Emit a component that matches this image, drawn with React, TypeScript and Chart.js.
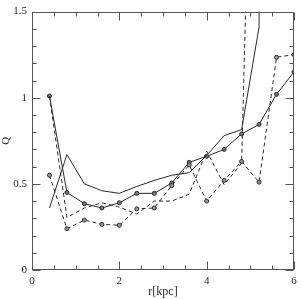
import React, { useEffect, useRef } from "react";
import { Chart, registerables } from "chart.js";

Chart.register(...registerables);

const radius = [0.4, 0.8, 1.2, 1.6, 2.0, 2.4, 2.8, 3.2, 3.6, 4.0, 4.4, 4.8, 5.2, 5.6, 6.0];
const qSolidMarked = [1.01, 0.45, 0.385, 0.36, 0.39, 0.445, 0.445, 0.505, 0.625, 0.66, 0.7, 0.79, 0.845, 1.02, 1.15];
const qSolid = [0.36, 0.67, 0.5, 0.46, 0.445, 0.485, 0.52, 0.55, 0.565, 0.665, 0.78, 0.815, 1.41, 30];
const qDashedMarked = [0.55, 0.24, 0.29, 0.265, 0.26, 0.355, 0.36, 0.49, 0.61, 0.4, 0.52, 0.63, 0.51, 1.235, 1.25];
const qDashed = [1.01, 0.305, 0.36, 0.39, 0.365, 0.325, 0.4, 0.4, 0.44, 0.69, 0.495, 0.62, 4.5];

const xTickLabels = ["0", "2", "4", "6"];
const yTickLabels = ["0", "0.5", "1", "1.5"];

const FONT = "'Liberation Serif', 'Times New Roman', serif";
const INK = "#2a2a2a";

const toPoints = (vals: number[]) => vals.map((v, i) => ({ x: radius[i], y: v }));

const framePlugin = {
  id: "frameTicks",
  afterDatasetsDraw(chart: any) {
    const { ctx, chartArea, scales } = chart;
    const { left, right, top, bottom } = chartArea;
    const xs = scales.x;
    const ys = scales.y;
    ctx.save();
    ctx.strokeStyle = "#555";
    ctx.lineWidth = 1;
    const L = Math.round(left) + 0.5;
    const R = Math.round(right) - 0.5;
    const T = Math.round(top) + 0.5;
    const B = Math.round(bottom) - 0.5;
    ctx.strokeRect(L, T, R - L, B - T);
    ctx.beginPath();
    for (let i = 0; i <= 15; i++) {
      const py = Math.round(ys.getPixelForValue(i / 10)) + 0.5;
      const len = i % 5 === 0 ? 8 : 4;
      ctx.moveTo(L, py);
      ctx.lineTo(L + len, py);
      ctx.moveTo(R, py);
      ctx.lineTo(R - len, py);
    }
    for (let i = 0; i <= 12; i++) {
      const px = Math.round(xs.getPixelForValue(i / 2)) + 0.5;
      const len = i % 4 === 0 ? 8 : 4;
      ctx.moveTo(px, B);
      ctx.lineTo(px, B - len);
      ctx.moveTo(px, T);
      ctx.lineTo(px, T + len);
    }
    ctx.stroke();
    ctx.restore();
  },
};

export default function App() {
  const ref = useRef<HTMLCanvasElement | null>(null);
  useEffect(() => {
    if (!ref.current) return;
    const chart = new Chart(ref.current, {
      type: "line",
      data: {
        datasets: [
          {
            data: toPoints(qSolid),
            borderColor: INK,
            borderWidth: 1,
            pointRadius: 0,
            clip: 0,
          },
          {
            data: toPoints(qDashed),
            borderColor: INK,
            borderWidth: 1,
            borderDash: [4, 3],
            pointRadius: 0,
            clip: 0,
          },
          {
            data: toPoints(qDashedMarked),
            borderColor: INK,
            borderWidth: 1,
            borderDash: [4, 3],
            pointRadius: 2,
            pointBorderWidth: 1,
            pointBackgroundColor: "#999",
            pointBorderColor: INK,
            clip: 0,
          },
          {
            data: toPoints(qSolidMarked),
            borderColor: INK,
            borderWidth: 1,
            pointRadius: 2,
            pointBorderWidth: 1,
            pointBackgroundColor: "#777",
            pointBorderColor: INK,
            clip: 0,
          },
        ] as any,
      },
      options: {
        animation: false,
        responsive: true,
        maintainAspectRatio: false,
        layout: { padding: { left: 0, top: 8, right: 9, bottom: 0 } },
        plugins: { legend: { display: false }, tooltip: { enabled: false } },
        elements: { line: { tension: 0 } },
        scales: {
          x: {
            type: "linear",
            min: 0,
            max: 6,
            grid: { display: false, drawTicks: false },
            border: { display: false },
            afterFit: (s: any) => {
              s.height = 29;
            },
            ticks: {
              stepSize: 2,
              padding: 5,
              color: INK,
              font: { family: FONT, size: 11 },
              maxRotation: 0,
              callback: (v: any) => xTickLabels[Math.round(Number(v) / 2)] ?? "",
            },
            title: {
              display: true,
              text: "r[kpc]",
              color: INK,
              font: { family: FONT, size: 12 },
              padding: { top: 0, bottom: 0 },
            },
          },
          y: {
            type: "linear",
            min: 0,
            max: 1.5,
            grid: { display: false, drawTicks: false },
            border: { display: false },
            afterFit: (s: any) => {
              s.width = 32;
            },
            ticks: {
              stepSize: 0.5,
              padding: 5,
              color: INK,
              font: { family: FONT, size: 11 },
              callback: (v: any) => yTickLabels[Math.round(Number(v) * 2)] ?? "",
            },
            title: {
              display: true,
              text: "Q",
              color: INK,
              font: { family: FONT, size: 11 },
              padding: { top: 0, bottom: 0 },
            },
          },
        },
      },
      plugins: [framePlugin],
    });
    return () => chart.destroy();
  }, []);
  return (
    <div style={{ position: "fixed", left: 0, top: 0, width: 303, height: 299, background: "#fff" }}>
      <canvas ref={ref} />
    </div>
  );
}
